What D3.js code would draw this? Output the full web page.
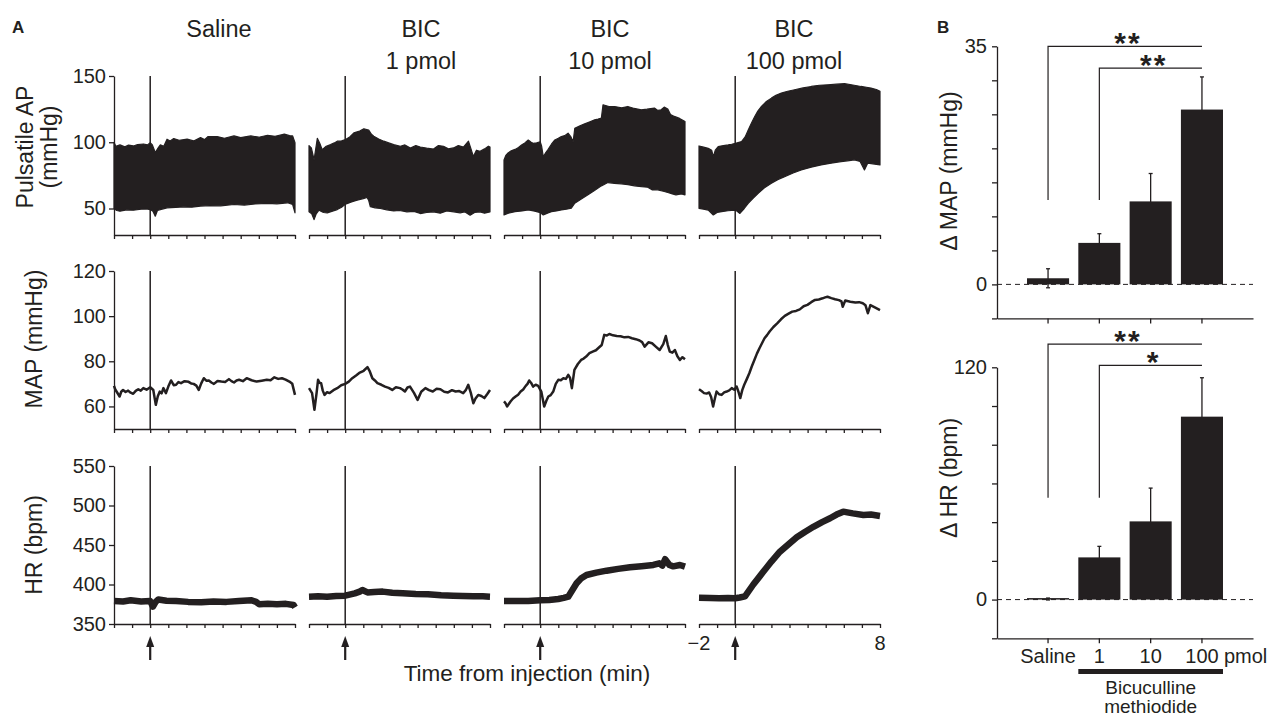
<!DOCTYPE html>
<html lang="en">
<head>
<meta charset="utf-8">
<title>BIC responses</title>
<script src="https://d3js.org/d3.v7.min.js"></script>
<style>
body { margin: 0; background: #ffffff; }
svg text { font-family: "Liberation Sans", Arial, sans-serif; fill: #231f20; }
</style>
</head>
<body>
<div id="container"></div>
<script>
var w = 1268;
var h = 719;
var ink = "#231f20";

// ---- panel A data: [minutes from injection, value] ----
var titleLines = [["Saline"], ["BIC", "1 pmol"], ["BIC", "10 pmol"], ["BIC", "100 pmol"]];
var timeTicks = [-2, -1, 0, 1, 2, 3, 4, 5, 6, 7, 8];

// pulsatile AP, systolic (upper) and diastolic (lower) envelopes, mmHg
var apUpper = [
  [[-2,100],[-1.9,97],[-1.67,98],[-1.4,96.5],[-1.2,97.8],[-0.93,97.2],[-0.7,98.2],[-0.37,98.7],[-0.15,98],[0,99.7],[0.12,98],[0.28,92.2],[0.45,96],[0.56,98],[0.75,97],[0.93,102.3],[1.1,101],[1.3,102.8],[1.6,101.5],[2.04,102.3],[2.4,101],[2.78,103.5],[3.0,102],[3.2,104.3],[3.7,104.3],[4.1,103],[4.63,104.8],[5.0,103.5],[5.56,104.8],[6.0,103.8],[6.48,105.3],[6.9,104.5],[7.41,106.1],[7.7,105],[7.87,104.8],[8,99.7]],
  [[-2,97.5],[-1.87,95.7],[-1.72,86.8],[-1.54,103],[-1.4,99],[-1.27,94.4],[-1.05,97],[-0.81,98.2],[-0.6,99.5],[-0.44,100.8],[-0.2,101],[0.02,102],[0.25,104],[0.48,107.1],[0.8,108.5],[1.03,110.2],[1.3,109.1],[1.45,106],[1.58,104.6],[1.85,102.5],[2.13,100.8],[2.4,99.5],[2.68,98.2],[3.05,97],[3.3,98],[3.6,95.7],[3.9,97.5],[4.15,96.4],[4.5,95.5],[4.88,94.9],[5.15,97.5],[5.43,97],[5.7,95],[5.98,95.7],[6.25,97.5],[6.53,96.4],[6.81,100.8],[6.95,95],[7.08,89.3],[7.25,94],[7.45,93.1],[7.7,95],[7.91,97],[8,96.4]],
  [[-2,86.6],[-1.9,90],[-1.76,92.1],[-1.6,93.5],[-1.39,94.6],[-1.2,96],[-1.03,97.9],[-0.85,99.5],[-0.66,101.7],[-0.5,100],[-0.39,99.2],[-0.2,99.5],[0,100.4],[0.08,97],[0.17,89.1],[0.3,92],[0.44,94.6],[0.62,98.5],[0.81,101.7],[1.0,103],[1.17,104.3],[1.35,105],[1.54,106.8],[1.7,104],[1.82,100.4],[1.91,110.6],[2.2,112.5],[2.46,113.9],[2.75,115.5],[3.01,116.9],[3.2,117.5],[3.38,118.2],[3.47,128.3],[3.8,127],[4.11,127],[4.5,126],[4.84,127],[5.2,125.5],[5.58,124.5],[5.9,125],[6.31,125.8],[6.5,124],[6.68,124.5],[6.85,126.5],[7.05,125],[7.2,121],[7.41,119.5],[7.7,118],[8,115.6]],
  [[-2,97.2],[-1.8,96.5],[-1.49,95.4],[-1.3,94],[-1.21,89.1],[-1.1,94],[-0.94,96.7],[-0.65,97.5],[-0.39,98],[-0.2,98.5],[0.02,99.2],[0.35,100.5],[0.55,104],[0.72,109.3],[0.9,114.5],[1.08,119.4],[1.25,123.5],[1.45,127],[1.7,130.5],[2.0,133.3],[2.25,135.5],[2.55,137.1],[2.9,138.5],[3.28,139.6],[3.75,141],[4.2,142.1],[4.65,143],[5.12,143.4],[5.6,143.8],[6.04,144.2],[6.5,143.2],[6.95,142.1],[7.25,141.5],[7.5,140.9],[7.8,139.8],[8,138.4]]
];
var apLower = [
  [[-2,50],[-1.85,48.5],[-1.67,48],[-1.3,49],[-0.93,48.7],[-0.5,49.5],[-0.19,49.7],[0,49.2],[0.15,48],[0.28,44.2],[0.4,48.5],[0.56,49.2],[0.93,50.5],[1.4,50.8],[1.85,51.3],[2.3,51],[2.78,51.8],[3.3,52.2],[3.9,52],[4.63,53],[5.2,52.6],[5.8,53.4],[6.48,53.8],[7,53.5],[7.59,54.3],[7.87,53],[8,46.7]],
  [[-2,47.5],[-1.85,46],[-1.72,41.6],[-1.6,46],[-1.45,48.7],[-1.2,47],[-0.99,46.7],[-0.7,48],[-0.44,49.2],[-0.2,51],[0.02,53.3],[0.35,55],[0.66,56.3],[1.0,57.5],[1.21,58.4],[1.3,56],[1.39,51.3],[1.65,50.5],[1.94,50],[2.3,49],[2.68,48.2],[3.0,48.5],[3.41,47.5],[3.8,47.8],[4.15,46.2],[4.5,47],[4.88,47.5],[5.25,46.5],[5.61,48.2],[6.0,47.5],[6.35,46.7],[6.6,47.5],[6.9,44.9],[7.15,47],[7.45,47.5],[7.7,46.5],[8,47.5]],
  [[-2,45.1],[-1.76,46.4],[-1.39,47.6],[-1.0,48.2],[-0.66,48.9],[-0.3,48],[0,46.9],[0.17,45.1],[0.4,46.5],[0.62,47.6],[0.9,48.2],[1.17,48.9],[1.45,49.5],[1.72,50.2],[1.91,54],[2.25,57],[2.64,60.3],[3.0,63.5],[3.38,67.1],[3.74,69.6],[4.1,69],[4.48,68.6],[4.85,68],[5.21,67.1],[5.6,66.5],[5.94,66.1],[6.2,64],[6.5,64.1],[6.8,63],[7.05,62.1],[7.3,61],[7.5,60.3],[7.8,61],[8,60.3]],
  [[-2,50.1],[-1.75,49.5],[-1.49,48.8],[-1.21,45.1],[-1.0,47],[-0.75,47.6],[-0.4,48.3],[0.02,48.8],[0.26,46.3],[0.5,50],[0.72,53.9],[1.0,57.8],[1.27,61.4],[1.6,65.5],[2.0,69],[2.35,71.8],[2.73,74],[3.2,76.8],[3.65,79.1],[4.2,81.2],[4.75,82.9],[5.3,84.2],[5.85,85.4],[6.2,86],[6.59,86.7],[6.9,85.5],[7.14,79.1],[7.32,84.2],[7.7,83.5],[8,82.9]]
];

// mean arterial pressure, mmHg
var mapTrace = [
  [[-2,69.1],[-1.93,67.5],[-1.86,66.6],[-1.69,64.4],[-1.6,66.5],[-1.5,67.3],[-1.36,66.4],[-1.22,67],[-1.08,66.1],[-0.94,65.6],[-0.8,66.9],[-0.66,67.6],[-0.52,67],[-0.38,68.1],[-0.2,67.4],[0,68.5],[0.17,67.3],[0.31,60.7],[0.42,64.5],[0.53,66.6],[0.63,65.8],[0.73,68.1],[0.87,65.9],[1.0,68.8],[1.15,71.5],[1.3,69.4],[1.43,69.6],[1.56,70.8],[1.7,70.3],[1.9,71.2],[2.12,70.9],[2.26,70.2],[2.4,70],[2.55,69.2],[2.68,67.3],[2.82,70.2],[2.96,72.5],[3.1,71.4],[3.24,71.5],[3.38,70.6],[3.52,70],[3.72,71.3],[3.93,71],[4.14,70.8],[4.35,72.1],[4.49,71.2],[4.63,70.6],[4.77,71.5],[4.91,71.8],[5.12,71.2],[5.33,72.5],[5.6,71.6],[5.88,71],[6.16,71.4],[6.44,71.8],[6.65,71.6],[6.86,72.9],[7.07,72.2],[7.28,72.5],[7.48,71.9],[7.69,71],[7.85,70],[8,65.1]],
  [[-2,68.1],[-1.83,65.9],[-1.7,58.5],[-1.58,66],[-1.5,71.8],[-1.42,70.5],[-1.33,70.3],[-1.24,67],[-1.14,65.1],[-1.0,66.3],[-0.86,65.9],[-0.65,67.2],[-0.44,68.1],[-0.22,69.4],[0,70],[0.2,71],[0.39,72.5],[0.6,73.7],[0.81,75],[1.02,75.8],[1.23,77.4],[1.36,75.5],[1.5,72.5],[1.64,71.5],[1.78,70.3],[2.0,69.6],[2.2,68.8],[2.4,68.2],[2.6,67.3],[2.8,68.5],[3.03,68.1],[3.16,67.5],[3.3,66.6],[3.44,68.4],[3.58,68.8],[3.8,66],[4.0,62.9],[4.2,66.5],[4.43,68.1],[4.63,67.2],[4.84,66.6],[5.05,67.8],[5.26,67.6],[5.47,66.5],[5.68,66.2],[5.9,67.2],[6.1,66.6],[6.3,66.8],[6.52,65.9],[6.66,67.2],[6.8,69.6],[6.94,66],[7.08,61.4],[7.2,63.5],[7.35,65.1],[7.52,64.6],[7.69,63.7],[7.85,65.5],[8,67.3]],
  [[-2,62.2],[-1.92,61.5],[-1.83,60],[-1.64,62.2],[-1.5,63.5],[-1.36,64.4],[-1.22,65.2],[-1.08,66.6],[-0.94,67.5],[-0.8,69.1],[-0.7,70],[-0.61,71.5],[-0.5,70.4],[-0.39,68.8],[-0.25,69.6],[-0.11,69.1],[0.06,66.6],[0.22,60],[0.34,62.5],[0.45,64.4],[0.58,65],[0.72,66.6],[0.86,70],[1.0,71.8],[1.14,71.6],[1.28,72.5],[1.42,72.2],[1.55,74],[1.65,72.6],[1.75,68.1],[1.89,76.2],[2.08,78.8],[2.26,80.6],[2.4,81.2],[2.54,82.1],[2.72,83.6],[2.9,84.3],[3.08,84.9],[3.26,86.2],[3.4,87.2],[3.54,91.7],[3.68,91.4],[3.82,92.1],[4.02,91.5],[4.23,91.2],[4.44,91.1],[4.65,90.6],[4.86,90.8],[5.07,90.2],[5.28,89.8],[5.49,89.2],[5.63,88.5],[5.77,86.5],[5.98,88.4],[6.18,88],[6.4,86.4],[6.6,85],[6.8,87.6],[6.94,91.2],[7.05,87.2],[7.16,84.3],[7.3,83.8],[7.44,85],[7.58,82.2],[7.72,80.6],[7.86,81.8],[8,80.9]],
  [[-2,67.6],[-1.86,66.8],[-1.72,65.9],[-1.58,65.7],[-1.44,66.2],[-1.33,64.2],[-1.22,60],[-1.12,63.6],[-1.03,66.6],[-0.89,65.4],[-0.75,65.1],[-0.61,66.2],[-0.47,66.6],[-0.33,67.1],[-0.19,68.1],[-0.05,67.4],[0.08,68.8],[0.18,66.5],[0.28,63.7],[0.39,67.2],[0.5,69.6],[0.64,72.1],[0.78,74.7],[0.92,77.8],[1.06,80.6],[1.2,83.4],[1.34,85.8],[1.48,88],[1.62,90.2],[1.76,91.6],[1.9,93.2],[2.11,95.2],[2.32,96.8],[2.53,98.6],[2.74,100.1],[2.95,101.1],[3.15,102],[3.36,102.3],[3.57,103],[3.78,104.4],[3.99,105],[4.2,106.2],[4.41,107.2],[4.62,107.4],[4.83,107.9],[4.97,108.3],[5.1,108.6],[5.31,108],[5.52,107.5],[5.73,107.1],[5.87,106.5],[5.94,104.2],[6.08,106.9],[6.36,106.4],[6.64,106],[6.85,106.2],[7.05,105.7],[7.2,104.8],[7.33,101.3],[7.47,104.9],[7.74,103.8],[8,102.7]]
];

// heart rate, bpm
var hrTrace = [
  [[-2,379],[-1.5,378.5],[-1.08,380],[-0.5,378.5],[0,379],[0.15,372],[0.3,378],[0.45,381],[0.9,379.5],[1.43,379],[2.1,378],[2.82,377.4],[3.5,378.5],[4.21,378],[4.9,379],[5.6,380],[5.85,378],[6.02,375],[6.5,375.5],[7.0,375],[7.5,375.5],[7.92,374],[8,371]],
  [[-2,384.6],[-1.5,385],[-1.0,384.6],[-0.5,385.5],[0,385.9],[0.53,388.8],[0.8,391],[0.95,393],[1.23,390],[1.6,390.5],[2.07,391],[2.6,389.5],[3.18,388.8],[3.9,388],[4.57,387.6],[5.3,386.5],[5.97,385.9],[6.5,385.5],[7.08,385],[7.6,385],[8,384.6]],
  [[-2,379],[-1.3,379],[-0.66,379],[0,380],[0.5,380.5],[1.0,381.6],[1.3,383],[1.55,384.6],[1.78,393],[2.01,401.5],[2.25,407.5],[2.56,412],[3.1,415],[3.67,417.5],[4.3,419.8],[4.96,421.8],[5.6,423.2],[6.25,424.7],[6.58,426.8],[6.75,424],[6.9,432],[7.14,424.7],[7.35,423],[7.72,424.7],[8,422.6]],
  [[-2,383.3],[-1.4,383],[-0.89,382.5],[-0.4,382.8],[0,382.5],[0.25,383.5],[0.54,385],[1.0,400],[1.55,416],[2.0,429],[2.47,441.5],[2.95,451],[3.4,459.8],[3.85,466.5],[4.32,473],[4.8,479],[5.24,483.8],[5.6,488.5],[5.97,492.2],[6.5,490],[7.08,488],[7.5,488.5],[8,486.7]]
];

// ---- panel B data ----
var groups = ["Saline", "1", "10", "100"];
var mapMean = [0.9, 6.1, 12.2, 25.7];
var mapSem = [1.4, 1.35, 4.1, 4.8];
var hrMean = [0.3, 21.8, 40.4, 94.5];
var hrSem = [0.5, 5.7, 17.2, 20.1];
// significance brackets: from group, to group, bracket level, drop level, mark
var mapSig = [["Saline", "100", 35, 12.4, "**"], ["1", "100", 31.8, 12.4, "**"]];
var hrSig = [["Saline", "100", 132, 52.6, "**"], ["1", "100", 121, 52.6, "*"]];

var svg = d3.select("#container").append("svg")
    .attr("width", w).attr("height", h)
    .style("background-color", "#ffffff");

function styleAxis(g, size) {
    g.attr("font-family", null).attr("font-size", null);
    g.selectAll(".domain").attr("stroke", ink).attr("stroke-width", 1.3);
    g.selectAll(".tick line").attr("stroke", ink).attr("stroke-width", 1.3);
    g.selectAll(".tick text").style("font-size", size + "px");
}

// ================= panel A =================
var colLeft = [114, 309, 504, 699];
var colW = 181;
var rows = [
    {top: 76, bottom: 235, domain: [30, 150], ticks: [50, 100, 150], label: ["Pulsatile AP", "(mmHg)"], labelX: [33, 57], labelY: 147},
    {top: 271, bottom: 429, domain: [50, 120], ticks: [60, 80, 100, 120], label: ["MAP (mmHg)"], labelX: [42], labelY: 339},
    {top: 466, bottom: 624, domain: [350, 550], ticks: [350, 400, 450, 500, 550], label: ["HR (bpm)"], labelX: [42], labelY: 545}
];
var titleX = [219, 421, 610, 794];

svg.append("text").attr("x", 12).attr("y", 33)
    .style("font-size", "17px").style("font-weight", "bold").text("A");

titleLines.forEach(function(lines, ci) {
    lines.forEach(function(s, li) {
        svg.append("text").attr("x", titleX[ci]).attr("y", 37 + li * 32)
            .attr("text-anchor", "middle").style("font-size", "23.5px").text(s);
    });
});

rows.forEach(function(r, ri) {
    var y = d3.scaleLinear().domain(r.domain).range([r.bottom, r.top]);

    r.label.forEach(function(s, li) {
        svg.append("text")
            .attr("transform", "translate(" + r.labelX[li] + "," + r.labelY + ") rotate(-90)")
            .attr("text-anchor", "middle").style("font-size", "23px").text(s);
    });

    colLeft.forEach(function(x0, ci) {
        var x = d3.scaleLinear().domain([-2, 8]).range([x0, x0 + colW]);
        var g = svg.append("g");

        var xa = g.append("g").attr("transform", "translate(0," + r.bottom + ")")
            .call(d3.axisBottom(x).tickValues(timeTicks).tickSize(4).tickSizeOuter(0).tickFormat(""));
        styleAxis(xa, 20);

        if (ci === 0) {
            var ya = g.append("g").attr("transform", "translate(" + x0 + ",0)")
                .call(d3.axisLeft(y).tickValues(r.ticks).tickSize(5).tickSizeOuter(0).tickPadding(3));
            styleAxis(ya, 20);
        }

        // injection marker
        g.append("line")
            .attr("x1", x(0)).attr("x2", x(0))
            .attr("y1", r.top).attr("y2", r.bottom)
            .attr("stroke", ink).attr("stroke-width", 1.5);

        var line = d3.line().x(function(d) { return x(d[0]); }).y(function(d) { return y(d[1]); });

        if (ri === 0) {
            var poly = apUpper[ci].concat(apLower[ci].slice().reverse());
            g.append("path").attr("d", line(poly) + "Z")
                .attr("fill", ink).attr("stroke", ink).attr("stroke-width", 1.2).attr("stroke-linejoin", "round");
        } else if (ri === 1) {
            g.append("path").attr("d", line(mapTrace[ci]))
                .attr("fill", "none").attr("stroke", ink).attr("stroke-width", 2.5).attr("stroke-linejoin", "round");
        } else {
            g.append("path").attr("d", line(hrTrace[ci]))
                .attr("fill", "none").attr("stroke", ink).attr("stroke-width", 6.5).attr("stroke-linejoin", "round");

            // arrow at injection time
            var ax = x(0);
            g.append("line").attr("x1", ax).attr("x2", ax).attr("y1", 642).attr("y2", 660)
                .attr("stroke", ink).attr("stroke-width", 2.2);
            g.append("path")
                .attr("d", "M" + ax + ",636L" + (ax - 4) + ",647L" + (ax + 4) + ",647Z")
                .attr("fill", ink);

            if (ci === 3) {
                [-2, 8].forEach(function(t) {
                    g.append("text").attr("x", x(t)).attr("y", 650)
                        .attr("text-anchor", "middle").style("font-size", "20px")
                        .text(t < 0 ? "\u2212" + Math.abs(t) : t);
                });
            }
        }
    });
});

svg.append("text").attr("x", 527).attr("y", 681).attr("text-anchor", "middle")
    .style("font-size", "22.5px").text("Time from injection (min)");

// ================= panel B =================
svg.append("text").attr("x", 937).attr("y", 33)
    .style("font-size", "17px").style("font-weight", "bold").text("B");

var bx = d3.scaleBand().domain(groups).range([997, 1253]).paddingInner(0.18).paddingOuter(0.585);
var bw = bx.bandwidth();

var bars = [
    {top: 46.3, bottom: 318.4, domain: [-5, 35], step: 5, labeled: [0, 35], mean: mapMean, sem: mapSem, sig: mapSig, label: "\u0394 MAP (mmHg)", labelY: 171, names: false},
    {top: 367.3, bottom: 638.3, domain: [-20, 120], step: 20, labeled: [0, 120], mean: hrMean, sem: hrSem, sig: hrSig, label: "\u0394 HR (bpm)", labelY: 478, names: true}
];

bars.forEach(function(p) {
    var y = d3.scaleLinear().domain(p.domain).range([p.bottom, p.top]);
    var g = svg.append("g");

    var ya = g.append("g").attr("transform", "translate(997,0)")
        .call(d3.axisLeft(y).tickValues(d3.range(p.domain[0], p.domain[1] + 1, p.step))
            .tickSize(5).tickSizeOuter(0).tickPadding(5)
            .tickFormat(function(d) { return p.labeled.indexOf(d) >= 0 ? d : ""; }));
    styleAxis(ya, 20);

    var xa = g.append("g").attr("transform", "translate(0," + p.bottom + ")")
        .call(d3.axisBottom(bx).tickSize(5).tickSizeOuter(0).tickPadding(5.5)
            .tickFormat(function(d) { return p.names ? d : ""; }));
    styleAxis(xa, 20);

    g.append("text")
        .attr("transform", "translate(957," + p.labelY + ") rotate(-90)")
        .attr("text-anchor", "middle").style("font-size", "23px").text(p.label);

    // zero line
    g.append("line").attr("x1", 997).attr("x2", 1253)
        .attr("y1", y(0)).attr("y2", y(0))
        .attr("stroke", ink).attr("stroke-width", 1).attr("stroke-dasharray", "5,4");

    // error bars
    groups.forEach(function(k, i) {
        var cx = bx(k) + bw / 2;
        var hi = y(p.mean[i] + p.sem[i]);
        var lo = y(p.mean[i] - p.sem[i]);
        g.append("line").attr("x1", cx).attr("x2", cx).attr("y1", hi).attr("y2", lo)
            .attr("stroke", ink).attr("stroke-width", 1.3);
        [hi, lo].forEach(function(v) {
            g.append("line").attr("x1", cx - 2).attr("x2", cx + 2).attr("y1", v).attr("y2", v)
                .attr("stroke", ink).attr("stroke-width", 1.3);
        });
    });

    g.selectAll("rect.bar").data(p.mean).enter().append("rect")
        .attr("class", "bar")
        .attr("x", function(d, i) { return bx(groups[i]); })
        .attr("width", bw)
        .attr("y", function(d) { return Math.min(y(d), y(0) - 1.5); })
        .attr("height", function(d) { return Math.max(y(0) - y(d), 1.5); })
        .attr("fill", ink);

    // significance brackets
    p.sig.forEach(function(s) {
        var x1 = bx(s[0]) + bw / 2, x2 = bx(s[1]) + bw / 2;
        g.append("path")
            .attr("d", "M" + x1 + "," + y(s[3]) + "V" + y(s[2]) + "H" + x2)
            .attr("fill", "none").attr("stroke", ink).attr("stroke-width", 1.2);
        g.append("text").attr("x", (x1 + x2) / 2 + 3).attr("y", y(s[2]) + 7)
            .attr("text-anchor", "middle")
            .style("font-size", "30px").style("font-weight", "bold").style("letter-spacing", "2px")
            .text(s[4]);
    });

    if (p.names) {
        g.append("text").attr("x", bx("100") + bw / 2 + 22).attr("y", p.bottom + 5 + 5.5 + 14.2)
            .style("font-size", "20px").text("pmol");
        g.append("rect").attr("x", bx("1")).attr("width", bx("100") + bw - bx("1"))
            .attr("y", 669).attr("height", 5).attr("fill", ink);
        var mid = (bx("1") + bx("100") + bw) / 2;
        g.append("text").attr("x", mid).attr("y", 694).attr("text-anchor", "middle")
            .style("font-size", "19px").text("Bicuculline");
        g.append("text").attr("x", mid).attr("y", 713).attr("text-anchor", "middle")
            .style("font-size", "19px").text("methiodide");
    }
});
</script>
</body>
</html>
